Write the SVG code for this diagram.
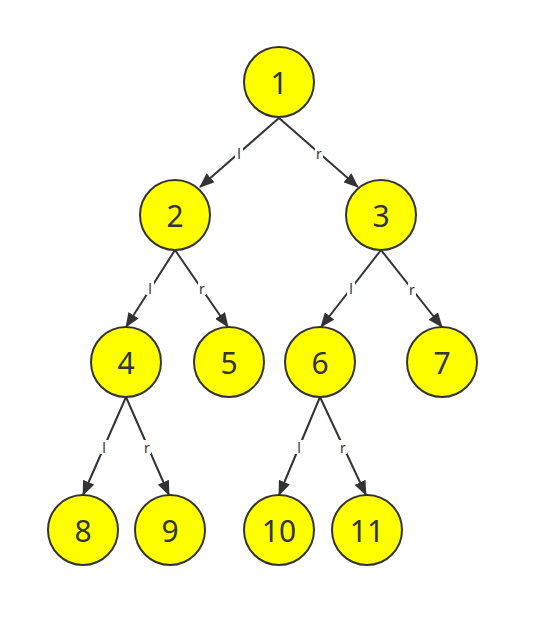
<svg xmlns="http://www.w3.org/2000/svg" width="540" height="627" viewBox="0 0 540 627">
<style>
.node circle{fill:#ffff00;stroke:#333333;stroke-width:2}
.node text{font-family:"Noto Sans","Open Sans","Liberation Sans",sans-serif;font-size:30px;fill:#333333;text-anchor:middle;dominant-baseline:central}
.edge line{stroke:#333333;stroke-width:2;marker-end:url(#arrow)}
.edge rect{fill:#ffffff}
.edge text{font-family:"Noto Sans","Liberation Sans",sans-serif;font-size:14px;fill:#333333;text-anchor:middle;dominant-baseline:central}
</style>
<defs>
<marker id="arrow" markerUnits="userSpaceOnUse" markerWidth="15" markerHeight="12" refX="14" refY="6" orient="auto">
<path d="M0,0 L15,6 L0,12 z" fill="#333333"/>
</marker>
</defs>
<rect width="540" height="627" fill="#ffffff"/>
<g id="edges">
<g class="edge"><line x1="279" y1="118" x2="200" y2="187"/><rect x="235" y="146" width="8" height="14"/><text x="239" y="153">l</text></g>
<g class="edge"><line x1="279" y1="118" x2="358" y2="187"/><rect x="315" y="146" width="8" height="14"/><text x="319" y="153">r</text></g>
<g class="edge"><line x1="175" y1="250" x2="126" y2="327"/><rect x="146" y="281" width="8" height="14"/><text x="150" y="288">l</text></g>
<g class="edge"><line x1="175" y1="250" x2="228" y2="327"/><rect x="198" y="281" width="8" height="14"/><text x="202" y="288">r</text></g>
<g class="edge"><line x1="381" y1="250" x2="321" y2="327"/><rect x="347" y="281" width="8" height="14"/><text x="351" y="288">l</text></g>
<g class="edge"><line x1="381" y1="250" x2="442" y2="327"/><rect x="408" y="282" width="8" height="14"/><text x="412" y="289">r</text></g>
<g class="edge"><line x1="126" y1="397" x2="83" y2="495"/><rect x="100" y="440" width="8" height="14"/><text x="104" y="447">l</text></g>
<g class="edge"><line x1="126" y1="397" x2="169" y2="495"/><rect x="143" y="440" width="8" height="14"/><text x="147" y="447">r</text></g>
<g class="edge"><line x1="320" y1="397" x2="279" y2="495"/><rect x="295" y="440" width="8" height="14"/><text x="299" y="447">l</text></g>
<g class="edge"><line x1="320" y1="397" x2="366" y2="495"/><rect x="339" y="440" width="8" height="14"/><text x="343" y="447">r</text></g>
</g>
<g id="n1" class="node"><circle cx="279" cy="82" r="35"/><text x="279" y="82">1</text></g>
<g id="n2" class="node"><circle cx="175" cy="215" r="35"/><text x="175" y="215">2</text></g>
<g id="n3" class="node"><circle cx="381" cy="215" r="35"/><text x="381" y="215">3</text></g>
<g id="n4" class="node"><circle cx="126" cy="362" r="35"/><text x="126" y="362">4</text></g>
<g id="n5" class="node"><circle cx="229" cy="362" r="35"/><text x="229" y="362">5</text></g>
<g id="n6" class="node"><circle cx="320" cy="362" r="35"/><text x="320" y="362">6</text></g>
<g id="n7" class="node"><circle cx="442" cy="362" r="35"/><text x="442" y="362">7</text></g>
<g id="n8" class="node"><circle cx="83" cy="530" r="35"/><text x="83" y="530">8</text></g>
<g id="n9" class="node"><circle cx="170" cy="530" r="35"/><text x="170" y="530">9</text></g>
<g id="n10" class="node"><circle cx="279" cy="530" r="35"/><text x="279" y="530">10</text></g>
<g id="n11" class="node"><circle cx="367" cy="530" r="35"/><text x="367" y="530">11</text></g>
</svg>
